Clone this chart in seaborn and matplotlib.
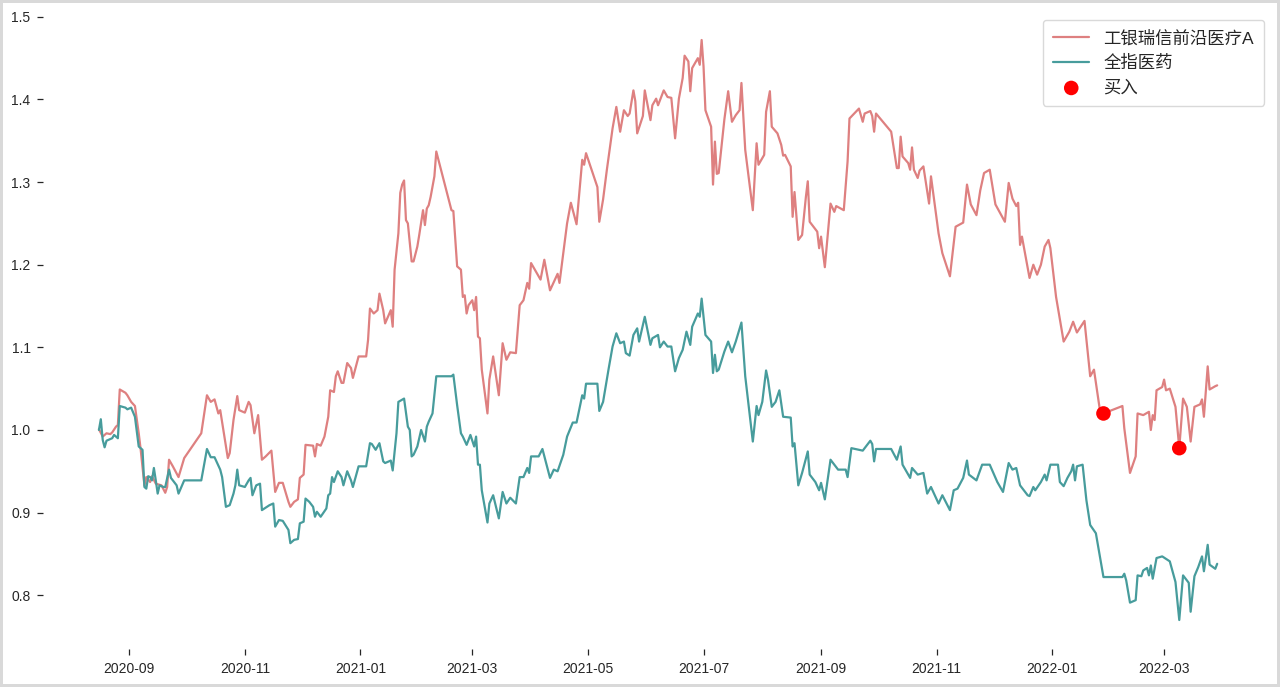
import matplotlib
matplotlib.use("Agg")
import matplotlib.pyplot as plt
import matplotlib.dates as mdates
from matplotlib.ticker import MultipleLocator
import numpy as np
import pandas as pd
import seaborn as sns

# ---------------- data ----------------
base_date = "2020-09-01"   # day offsets below are counted from this date

fund_name = "工银瑞信前沿医疗A"
index_name = "全指医药"
buy_name = "买入"

fund_days = [-16, -14, -12, -10, -9, -7, -6, -5, -2, -1, 1, 3, 5, 6, 8, 9, 11, 12, 14, 17,
             19, 20, 21, 23, 26, 29, 38, 41, 43, 45, 47, 48, 52, 53, 55, 57, 58, 61, 63, 64,
             66, 68, 70, 72, 75, 77, 79, 81, 84, 85, 87, 89, 90, 92, 93, 97, 98, 99, 101, 103,
             105, 106, 108, 109, 110, 112, 113, 115, 117, 118, 121, 125, 126, 127, 129, 131, 132, 134, 135, 138,
             139, 140, 142, 143, 144, 145, 146, 147, 149, 150, 152, 153, 155, 156, 157, 158, 159, 161, 162, 170,
             171, 173, 175, 176, 177, 178, 179, 181, 182, 183, 184, 185, 186, 189, 190, 192, 195, 197, 199, 201,
             204, 206, 208, 210, 211, 212, 214, 217, 219, 222, 224, 226, 227, 231, 233, 236, 239, 240, 241, 247,
             248, 250, 252, 255, 257, 259, 261, 263, 264, 266, 267, 268, 271, 272, 275, 276, 278, 279, 282, 284,
             286, 288, 290, 292, 293, 295, 296, 297, 300, 301, 302, 303, 304, 307, 308, 309, 310, 311, 314, 316,
             318, 320, 322, 323, 325, 329, 331, 332, 335, 336, 338, 339, 342, 344, 345, 346, 349, 350, 351, 353,
             355, 357, 358, 359, 363, 364, 365, 367, 370, 372, 373, 377, 379, 380, 385, 387, 388, 391, 392, 393,
             394, 402, 405, 406, 407, 408, 411, 412, 413, 414, 416, 417, 419, 422, 423, 427, 429, 433, 436, 440,
             442, 444, 447, 449, 451, 454, 457, 462, 464, 466, 468, 469, 470, 471, 475, 477, 479, 481, 483, 485,
             486, 489, 493, 496, 498, 500, 504, 507, 509, 512, 514, 524, 525, 528, 531, 532, 535, 538, 539, 540,
             541, 542, 545, 546, 547, 549, 552, 554, 556, 558, 560, 562, 565, 566, 567, 569, 570, 573, 574]
fund_nav = [1.001, 0.992, 0.996, 0.995, 0.997, 1.004, 1.006, 1.049, 1.045, 1.042, 1.034, 1.029, 0.996, 0.977, 0.933, 0.943, 0.937, 0.944, 0.935, 0.933,
            0.924, 0.931, 0.964, 0.956, 0.943, 0.966, 0.996, 1.042, 1.034, 1.037, 1.020, 1.024, 0.966, 0.972, 1.012, 1.041, 1.024, 1.021, 1.034, 1.030,
            0.996, 1.018, 0.964, 0.968, 0.975, 0.925, 0.936, 0.936, 0.913, 0.907, 0.913, 0.916, 0.942, 0.946, 0.982, 0.981, 0.968, 0.983, 0.981, 0.992,
            1.016, 1.048, 1.046, 1.065, 1.071, 1.057, 1.057, 1.081, 1.075, 1.063, 1.089, 1.089, 1.109, 1.147, 1.141, 1.145, 1.165, 1.145, 1.129, 1.145,
            1.125, 1.194, 1.238, 1.287, 1.297, 1.302, 1.254, 1.250, 1.204, 1.204, 1.222, 1.236, 1.266, 1.248, 1.268, 1.272, 1.282, 1.307, 1.337, 1.266,
            1.265, 1.198, 1.194, 1.161, 1.163, 1.141, 1.151, 1.157, 1.145, 1.161, 1.113, 1.111, 1.073, 1.020, 1.061, 1.089, 1.042, 1.105, 1.085, 1.094,
            1.093, 1.151, 1.157, 1.178, 1.171, 1.202, 1.194, 1.182, 1.206, 1.169, 1.179, 1.189, 1.178, 1.250, 1.275, 1.249, 1.327, 1.321, 1.335, 1.294,
            1.252, 1.279, 1.315, 1.365, 1.391, 1.361, 1.387, 1.380, 1.383, 1.411, 1.398, 1.359, 1.380, 1.411, 1.375, 1.393, 1.401, 1.393, 1.411, 1.403,
            1.402, 1.353, 1.401, 1.426, 1.453, 1.446, 1.410, 1.438, 1.450, 1.442, 1.472, 1.440, 1.387, 1.367, 1.297, 1.349, 1.310, 1.311, 1.376, 1.410,
            1.373, 1.381, 1.387, 1.420, 1.339, 1.266, 1.347, 1.321, 1.333, 1.385, 1.410, 1.367, 1.359, 1.345, 1.332, 1.333, 1.319, 1.258, 1.288, 1.230,
            1.236, 1.282, 1.301, 1.252, 1.240, 1.220, 1.234, 1.197, 1.274, 1.264, 1.271, 1.266, 1.325, 1.377, 1.389, 1.373, 1.383, 1.386, 1.380, 1.361,
            1.383, 1.361, 1.317, 1.317, 1.355, 1.331, 1.323, 1.315, 1.342, 1.315, 1.305, 1.314, 1.319, 1.274, 1.307, 1.238, 1.214, 1.186, 1.246, 1.251,
            1.297, 1.273, 1.260, 1.290, 1.311, 1.315, 1.273, 1.252, 1.299, 1.280, 1.271, 1.275, 1.224, 1.234, 1.184, 1.200, 1.188, 1.200, 1.222, 1.230,
            1.220, 1.161, 1.107, 1.119, 1.131, 1.118, 1.132, 1.065, 1.073, 1.026, 1.020, 1.029, 1.002, 0.948, 0.968, 1.020, 1.018, 1.022, 1.000, 1.018,
            1.012, 1.048, 1.052, 1.061, 1.048, 1.050, 1.028, 0.978, 1.038, 1.028, 0.986, 1.028, 1.031, 1.037, 1.016, 1.077, 1.049, 1.053, 1.054]

index_days = [-16, -15, -14, -13, -12, -9, -8, -6, -5, -2, -1, 1, 3, 5, 7, 8, 9, 10, 11, 12,
              13, 14, 15, 16, 18, 19, 21, 22, 25, 26, 29, 38, 41, 43, 45, 48, 49, 51, 53, 55,
              56, 57, 58, 61, 63, 64, 65, 67, 69, 70, 72, 74, 76, 77, 79, 81, 84, 85, 87, 89,
              90, 92, 93, 95, 97, 98, 99, 101, 104, 105, 106, 107, 108, 110, 112, 113, 115, 117, 118, 121,
              125, 127, 128, 130, 132, 134, 135, 138, 139, 141, 142, 145, 147, 148, 149, 150, 152, 154, 156, 157,
              158, 160, 162, 170, 171, 173, 175, 176, 178, 180, 182, 183, 184, 185, 186, 189, 190, 192, 195, 197,
              199, 201, 204, 206, 208, 210, 211, 212, 216, 218, 222, 224, 226, 229, 231, 234, 236, 239, 240, 241,
              247, 248, 250, 253, 255, 257, 259, 261, 262, 264, 266, 268, 269, 272, 275, 276, 279, 280, 282, 284,
              286, 288, 290, 292, 294, 296, 297, 300, 301, 302, 304, 307, 308, 309, 310, 311, 314, 316, 318, 320,
              323, 325, 329, 331, 332, 334, 336, 337, 339, 341, 343, 345, 349, 350, 351, 353, 355, 358, 359, 362,
              364, 365, 367, 370, 372, 374, 378, 379, 381, 387, 391, 392, 393, 394, 402, 405, 407, 408, 412, 413,
              416, 419, 421, 423, 427, 429, 433, 435, 437, 440, 442, 443, 447, 450, 454, 458, 461, 464, 466, 468,
              470, 474, 475, 477, 478, 481, 483, 484, 486, 490, 491, 493, 495, 497, 498, 499, 500, 503, 505, 507,
              510, 514, 524, 525, 526, 528, 531, 532, 534, 535, 537, 538, 539, 540, 542, 545, 549, 552, 554, 556,
              559, 560, 562, 564, 566, 567, 569, 570, 573, 574]
index_nav = [1.000, 1.013, 0.988, 0.979, 0.987, 0.990, 0.994, 0.990, 1.029, 1.027, 1.025, 1.027, 1.016, 0.980, 0.976, 0.931, 0.929, 0.944, 0.943, 0.939,
             0.954, 0.939, 0.923, 0.933, 0.931, 0.931, 0.952, 0.942, 0.933, 0.923, 0.939, 0.939, 0.977, 0.967, 0.967, 0.952, 0.943, 0.907, 0.909, 0.923,
             0.933, 0.952, 0.933, 0.931, 0.939, 0.942, 0.921, 0.933, 0.935, 0.903, 0.906, 0.909, 0.911, 0.883, 0.891, 0.890, 0.879, 0.863, 0.867, 0.868,
             0.887, 0.889, 0.917, 0.913, 0.907, 0.895, 0.901, 0.895, 0.905, 0.921, 0.923, 0.943, 0.937, 0.950, 0.943, 0.933, 0.950, 0.939, 0.931, 0.956,
             0.956, 0.984, 0.983, 0.976, 0.984, 0.962, 0.960, 0.963, 0.951, 0.996, 1.034, 1.038, 1.004, 1.000, 0.968, 0.970, 0.980, 1.000, 0.986, 1.004,
             1.010, 1.020, 1.065, 1.065, 1.067, 1.030, 0.996, 0.992, 0.982, 0.994, 0.980, 0.992, 0.958, 0.958, 0.927, 0.888, 0.911, 0.921, 0.893, 0.925,
             0.911, 0.918, 0.911, 0.943, 0.943, 0.954, 0.948, 0.968, 0.968, 0.977, 0.942, 0.952, 0.950, 0.970, 0.992, 1.009, 1.009, 1.042, 1.038, 1.056,
             1.056, 1.023, 1.034, 1.075, 1.101, 1.117, 1.105, 1.107, 1.093, 1.090, 1.115, 1.123, 1.107, 1.137, 1.103, 1.111, 1.115, 1.100, 1.107, 1.101,
             1.101, 1.071, 1.087, 1.097, 1.119, 1.103, 1.125, 1.141, 1.137, 1.159, 1.115, 1.107, 1.069, 1.091, 1.071, 1.073, 1.095, 1.107, 1.094, 1.107,
             1.130, 1.065, 0.986, 1.029, 1.018, 1.034, 1.072, 1.061, 1.028, 1.034, 1.048, 1.016, 1.015, 0.980, 0.984, 0.933, 0.948, 0.974, 0.946, 0.937,
             0.927, 0.936, 0.916, 0.964, 0.958, 0.952, 0.952, 0.943, 0.978, 0.975, 0.987, 0.983, 0.962, 0.977, 0.977, 0.964, 0.980, 0.958, 0.942, 0.954,
             0.946, 0.948, 0.923, 0.931, 0.911, 0.921, 0.903, 0.927, 0.929, 0.942, 0.963, 0.946, 0.939, 0.958, 0.958, 0.937, 0.925, 0.960, 0.952, 0.954,
             0.933, 0.921, 0.920, 0.931, 0.927, 0.937, 0.946, 0.939, 0.958, 0.958, 0.937, 0.932, 0.942, 0.950, 0.958, 0.939, 0.956, 0.958, 0.915, 0.885,
             0.875, 0.822, 0.822, 0.826, 0.818, 0.791, 0.794, 0.824, 0.823, 0.830, 0.833, 0.824, 0.836, 0.820, 0.845, 0.847, 0.841, 0.816, 0.770, 0.824,
             0.815, 0.780, 0.823, 0.834, 0.847, 0.829, 0.861, 0.837, 0.832, 0.838]

buy_days = [514, 554]
buy_nav = [1.020, 0.978]

# ---------------- build frames ----------------
t0 = pd.Timestamp(base_date)
fund_df = pd.DataFrame({"date": t0 + pd.to_timedelta(fund_days, unit="D"), "nav": fund_nav})
index_df = pd.DataFrame({"date": t0 + pd.to_timedelta(index_days, unit="D"), "nav": index_nav})
buy_df = pd.DataFrame({"date": t0 + pd.to_timedelta(buy_days, unit="D"), "nav": buy_nav})

# ---------------- style ----------------
sns.set_style("ticks")
plt.rcParams["font.family"] = ["Liberation Sans", "Noto Sans CJK SC", "DejaVu Sans"]
plt.rcParams["axes.unicode_minus"] = False

fig = plt.figure(figsize=(12.8, 6.87), dpi=100)
ax = fig.add_axes([0.0336, 0.0553, 0.961, 0.9287])

sns.lineplot(data=fund_df, x="date", y="nav", ax=ax, color="#de8080",
             linewidth=1.6, label=fund_name)
sns.lineplot(data=index_df, x="date", y="nav", ax=ax, color="#479c9c",
             linewidth=1.6, label=index_name)
sns.scatterplot(data=buy_df, x="date", y="nav", ax=ax, color="#ff0000",
                s=110, edgecolor="none", label=buy_name, zorder=5)

sns.despine(ax=ax, left=True, bottom=True, top=True, right=True)
ax.set_xlabel("")
ax.set_ylabel("")

ax.xaxis.set_major_locator(mdates.MonthLocator(bymonth=[1, 3, 5, 7, 9, 11]))
ax.xaxis.set_major_formatter(mdates.DateFormatter("%Y-%m"))
ax.yaxis.set_major_locator(MultipleLocator(0.1))
ax.tick_params(axis="both", labelsize=10, length=4.5, width=0.9,
               colors="#262626", pad=4.5)

leg = ax.legend(loc="upper right", fontsize=12.5, frameon=True,
                handlelength=2.1, handletextpad=0.8, borderpad=0.6,
                labelspacing=0.5)
leg.get_frame().set_edgecolor("#d0d0d0")

fig.patch.set_edgecolor("#d9d9d9")
fig.patch.set_linewidth(4)
fig.savefig("out.png", dpi=100, facecolor="white", edgecolor=fig.get_edgecolor())
